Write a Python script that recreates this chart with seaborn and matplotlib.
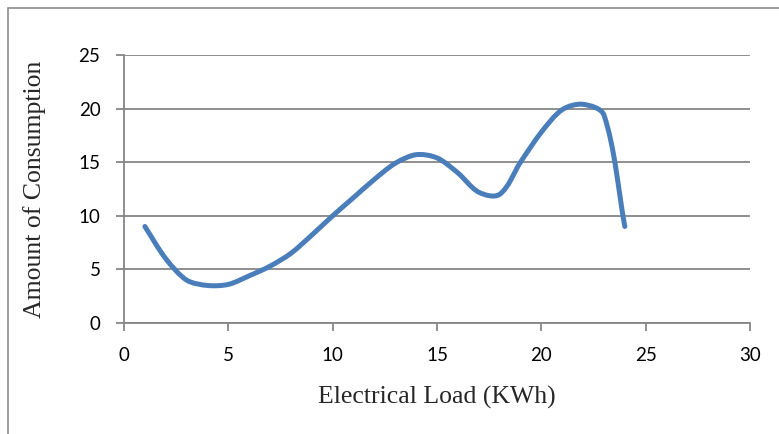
import numpy as np
import matplotlib
matplotlib.use("Agg")
import matplotlib.pyplot as plt
from matplotlib.path import Path
from matplotlib.patches import PathPatch, Rectangle
import seaborn as sns

# hourly points
load_kwh = [1, 2, 3, 4, 5, 6, 7, 8, 9, 10, 11, 12,
            13, 14, 15, 16, 17, 18, 19, 20, 21, 22, 23, 24]
consumption = [9.0, 6.0, 4.0, 3.5, 3.6, 4.4, 5.3, 6.5, 8.2, 10.0, 11.7, 13.4,
               14.9, 15.7, 15.4, 14.0, 12.2, 12.0, 15.0, 17.8, 19.9, 20.4, 19.4, 9.0]
x_ticks = [0, 5, 10, 15, 20, 25, 30]
y_ticks = [0, 5, 10, 15, 20, 25]

sns.set_theme(style="white")
plt.rcParams['font.family'] = ['Lato', 'DejaVu Sans']

fig = plt.figure(figsize=(7.79, 4.34), dpi=100)
ax = fig.add_axes([0.1592, 0.2558, 0.8036, 0.6175])

grey = "#868686"

ax.set_xlim(x_ticks[0], x_ticks[-1])
ax.set_ylim(y_ticks[0], y_ticks[-1])


def smooth_path(xs, ys, k=0.3):
    # smoothed line like the spreadsheet one: bezier segments through every
    # point, tangent taken from the neighbours, handle length from the segment
    # (worked out in screen space, then mapped back to data space)
    pts = ax.transData.transform(np.column_stack([xs, ys]))
    n = len(pts)
    tang = []
    for i in range(n):
        a = pts[max(i - 1, 0)]
        b = pts[min(i + 1, n - 1)]
        d = b - a
        tang.append(d / np.hypot(*d))
    verts = [pts[0]]
    codes = [Path.MOVETO]
    for i in range(n - 1):
        seg = np.hypot(*(pts[i + 1] - pts[i]))
        verts += [pts[i] + tang[i] * seg * k,
                  pts[i + 1] - tang[i + 1] * seg * k,
                  pts[i + 1]]
        codes += [Path.CURVE4] * 3
    verts = ax.transData.inverted().transform(np.array(verts))
    return Path(verts, codes)


ax.add_patch(PathPatch(smooth_path(load_kwh, consumption), facecolor="none",
                       edgecolor="#4A7EBB", lw=3.6, capstyle="round",
                       joinstyle="round", zorder=3))

ax.set_xticks(x_ticks)
ax.set_yticks(y_ticks)
ax.yaxis.grid(True, color=grey, lw=1.3)
ax.xaxis.grid(False)
ax.set_axisbelow(True)

for side in ["top", "right"]:
    ax.spines[side].set_visible(False)
for side in ["left", "bottom"]:
    ax.spines[side].set_color(grey)
    ax.spines[side].set_linewidth(1.3)

ax.tick_params(axis="both", which="both", direction="out", length=6,
               width=1.3, color=grey, labelsize=13.5, labelcolor="black")
ax.tick_params(axis="y", pad=11, left=True)
ax.tick_params(axis="x", pad=11, bottom=True)

ax.set_xlabel("Electrical Load (KWh)", family="Liberation Serif",
              fontsize=18.5, labelpad=16)
ax.set_ylabel("Amount of Consumption", family="Liberation Serif",
              fontsize=18.5, labelpad=23)

# outer frame of the pasted chart (only left and top edges are visible)
fig.patches.append(Rectangle((8 / 779, -0.1), 1.2, 1 - 8 / 434 + 0.1,
                             transform=fig.transFigure, fill=False,
                             edgecolor="#8c8c8c", lw=1.2, zorder=0))

fig.savefig("out.png", dpi=100)
